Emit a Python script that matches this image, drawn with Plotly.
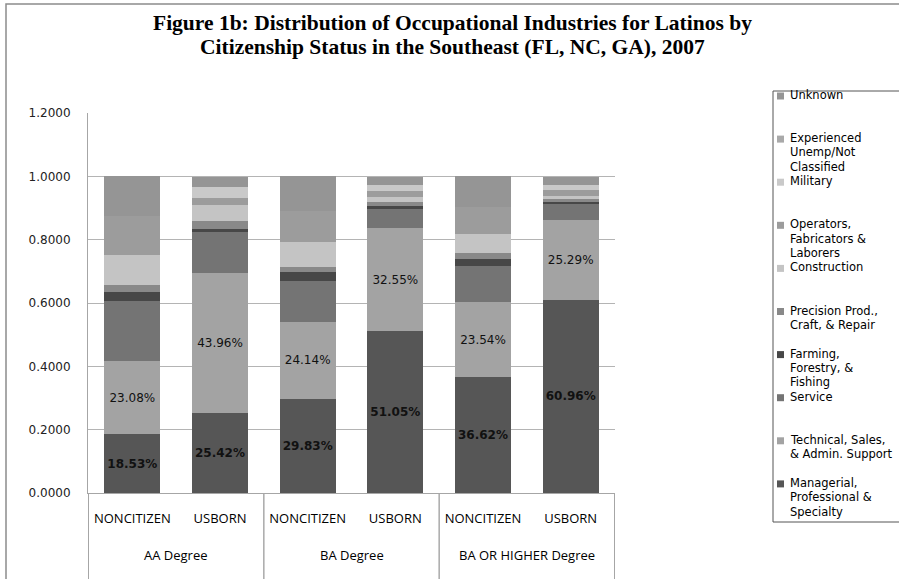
import plotly.graph_objects as go

# ---------------- data ----------------
groups = ["AA Degree", "AA Degree", "BA Degree", "BA Degree",
          "BA OR HIGHER Degree", "BA OR HIGHER Degree"]
status = ["NONCITIZEN", "USBORN", "NONCITIZEN", "USBORN", "NONCITIZEN", "USBORN"]

managerial   = [0.1853, 0.2542, 0.2983, 0.5105, 0.3662, 0.6096]
technical    = [0.2308, 0.4396, 0.2414, 0.3255, 0.2354, 0.2529]
service      = [0.189, 0.130, 0.131, 0.061, 0.116, 0.053]
farming      = [0.029, 0.009, 0.026, 0.010, 0.022, 0.005]
precision    = [0.024, 0.026, 0.017, 0.012, 0.018, 0.008]
construction = [0.095, 0.051, 0.078, 0.016, 0.061, 0.010]
operators    = [0.121, 0.023, 0.098, 0.018, 0.083, 0.017]
military     = [0.0, 0.032, 0.0, 0.021, 0.0, 0.018]
experienced  = [0.0, 0.0, 0.0, 0.0, 0.0, 0.0]
unknown      = [0.126, 0.034, 0.110, 0.024, 0.098, 0.024]

legend_lines = [
    ["Managerial,", "Professional &", "Specialty"],
    ["Technical, Sales,", "& Admin. Support"],
    ["Service"],
    ["Farming,", "Forestry, &", "Fishing"],
    ["Precision Prod.,", "Craft, & Repair"],
    ["Construction"],
    ["Operators,", "Fabricators &", "Laborers"],
    ["Military"],
    ["Experienced", "Unemp/Not", "Classified"],
    ["Unknown"],
]
series_values = [managerial, technical, service, farming, precision,
                 construction, operators, military, experienced, unknown]
series_colors = ["#565656", "#a3a3a3", "#747474", "#474747", "#898989",
                 "#c4c4c4", "#9c9c9c", "#c9c9c9", "#a9a9a9", "#959595"]
labelled = [True, True] + [False] * 8
label_bold = [True, False] + [False] * 8

title_lines = ["Figure 1b: Distribution of Occupational Industries for Latinos by",
               "Citizenship Status in the Southeast (FL, NC, GA), 2007"]

# ---------------- layout geometry ----------------
W, H = 899, 579
PL, PR, PT, PB = 88, 615, 113, 493
pw, ph = PR - PL, PB - PT


def px_x(x):
    return (x - PL) / pw


def px_y(y):
    return (PB - y) / ph


keys = [g + " | " + s for g, s in zip(groups, status)]

fig = go.Figure()
for lines, vals, col, lab, bold in zip(legend_lines, series_values,
                                       series_colors, labelled, label_bold):
    if lab:
        kw = dict(
            texttemplate="%{y:.2%}",
            textposition="inside",
            insidetextanchor="middle",
            textangle=0,
            constraintext="none",
            textfont=dict(family="DejaVu Sans", size=12, color="#111111",
                          weight="bold" if bold else "normal"),
        )
    else:
        kw = dict(textposition="none")
    fig.add_trace(go.Bar(
        x=keys, y=vals, name=" ".join(lines),
        marker=dict(color=col, line=dict(width=0)),
        showlegend=False, hoverinfo="skip", **kw))

annotations = []
shapes = []

# title (two lines, tight spacing as in the reference)
for i, t in enumerate(title_lines):
    annotations.append(dict(
        text=t, xref="paper", yref="paper", x=px_x(452), y=px_y(23 + 24 * i),
        xanchor="center", yanchor="middle", showarrow=False,
        font=dict(family="Liberation Serif", size=21.5, color="black",
                  weight="bold")))

# group labels and dividers
group_order = []
for g in groups:
    if g not in group_order:
        group_order.append(g)
for g in group_order:
    idx = [i for i, gg in enumerate(groups) if gg == g]
    annotations.append(dict(
        text=g, xref="x", yref="paper", x=(idx[0] + idx[-1]) / 2,
        y=px_y(555), xanchor="center", yanchor="middle", showarrow=False,
        font=dict(family="Open Sans", size=13, color="black")))
    for edge in (idx[0] - 0.5, idx[-1] + 0.5):
        shapes.append(dict(type="line", xref="x", yref="paper",
                           x0=edge, x1=edge, y0=0, y1=px_y(H + 5),
                           line=dict(color="#a6a6a6", width=1)))

# outer chart border (only left and top edges visible) and legend box
shapes.append(dict(type="path", xref="paper", yref="paper",
                   path="M {} {} L {} {} L {} {}".format(
                       px_x(6), px_y(H + 10), px_x(6), px_y(4),
                       px_x(W + 40), px_y(4)),
                   line=dict(color="#8c8c8c", width=1.5), layer="below"))
shapes.append(dict(type="path", xref="paper", yref="paper",
                   path="M {} {} L {} {} L {} {} L {} {}".format(
                       px_x(W + 40), px_y(91), px_x(773), px_y(91),
                       px_x(773), px_y(522), px_x(W + 40), px_y(522)),
                   line=dict(color="#555555", width=1), layer="below"))

# legend entries (top to bottom = reversed stacking order)
slot, line_h, first_y = 43.1, 14.3, 95
for k, si in enumerate(reversed(range(len(legend_lines)))):
    y0 = first_y + slot * k
    shapes.append(dict(type="rect", xref="paper", yref="paper",
                       x0=px_x(777), x1=px_x(784),
                       y0=px_y(y0 + 4.5), y1=px_y(y0 - 2.5),
                       line=dict(width=0), fillcolor=series_colors[si]))
    for j, ln in enumerate(legend_lines[si]):
        annotations.append(dict(
            text=ln, xref="paper", yref="paper", x=px_x(788),
            y=px_y(y0 + line_h * j), xanchor="left", yanchor="middle",
            showarrow=False,
            font=dict(family="DejaVu Sans", size=11.5, color="black")))

fig.update_layout(
    width=W, height=H,
    barmode="stack", bargap=0.36,
    paper_bgcolor="white", plot_bgcolor="white",
    margin=dict(l=PL, r=W - PR, t=PT, b=H - PB, autoexpand=False),
    showlegend=False,
    xaxis=dict(type="category", tickmode="array", tickvals=keys,
               ticktext=status, showline=True, linecolor="#a6a6a6",
               linewidth=1, ticks="", ticklabelstandoff=13,
               tickfont=dict(family="Open Sans", size=13, color="black")),
    yaxis=dict(range=[0, 1.2], dtick=0.2, tickformat=".4f",
               showgrid=True, gridcolor="#b4b4b4", gridwidth=1,
               showline=True, linecolor="#a6a6a6", linewidth=1,
               ticks="", ticklabelstandoff=14, zeroline=False,
               tickfont=dict(family="DejaVu Sans", size=12, color="#222222")),
    annotations=annotations,
    shapes=shapes,
)

fig.write_html("out.html")
